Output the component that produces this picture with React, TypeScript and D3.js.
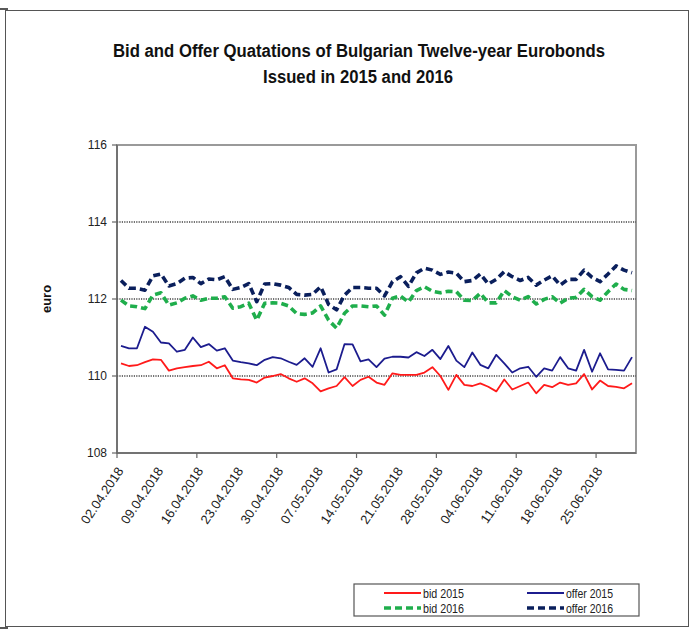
import React from "react";
import * as d3 from "d3";

const dates: string[] = [
  "02.04.2018","03.04.2018","04.04.2018","05.04.2018","06.04.2018",
  "09.04.2018","10.04.2018","11.04.2018","12.04.2018","13.04.2018",
  "16.04.2018","17.04.2018","18.04.2018","19.04.2018","20.04.2018",
  "23.04.2018","24.04.2018","25.04.2018","26.04.2018","27.04.2018",
  "30.04.2018","01.05.2018","02.05.2018","03.05.2018","04.05.2018",
  "07.05.2018","08.05.2018","09.05.2018","10.05.2018","11.05.2018",
  "14.05.2018","15.05.2018","16.05.2018","17.05.2018","18.05.2018",
  "21.05.2018","22.05.2018","23.05.2018","24.05.2018","25.05.2018",
  "28.05.2018","29.05.2018","30.05.2018","31.05.2018","01.06.2018",
  "04.06.2018","05.06.2018","06.06.2018","07.06.2018","08.06.2018",
  "11.06.2018","12.06.2018","13.06.2018","14.06.2018","15.06.2018",
  "18.06.2018","19.06.2018","20.06.2018","21.06.2018","22.06.2018",
  "25.06.2018","26.06.2018","27.06.2018","28.06.2018","29.06.2018",
];

const xLabels: string[] = [
  "02.04.2018","09.04.2018","16.04.2018","23.04.2018","30.04.2018",
  "07.05.2018","14.05.2018","21.05.2018","28.05.2018","04.06.2018",
  "11.06.2018","18.06.2018","25.06.2018",
];
const xTickDates: string[] = [
  "02.04.2018","16.04.2018","30.04.2018","14.05.2018","28.05.2018","11.06.2018","25.06.2018",
];
const yTicks: number[] = [108, 110, 112, 114, 116];
const gridValues: number[] = [110, 112, 114];

const bid2015: number[] = [
  110.33,110.26,110.28,110.36,110.43,110.42,110.14,110.2,110.23,110.26,
  110.28,110.37,110.2,110.28,109.94,109.91,109.9,109.83,109.96,110.0,
  110.05,109.94,109.85,109.94,109.81,109.6,109.68,109.74,109.97,109.74,
  109.9,109.98,109.83,109.77,110.07,110.03,110.03,110.03,110.09,110.23,
  110.0,109.64,110.03,109.77,109.74,109.81,109.72,109.6,109.91,109.65,
  109.74,109.83,109.55,109.77,109.71,109.83,109.77,109.81,110.05,109.65,
  109.88,109.74,109.72,109.68,109.81,
];
const offer2015: number[] = [
  110.78,110.72,110.72,111.28,111.15,110.87,110.85,110.63,110.68,111.0,
  110.75,110.83,110.66,110.72,110.4,110.36,110.33,110.28,110.42,110.49,
  110.46,110.37,110.29,110.46,110.24,110.72,110.09,110.17,110.83,110.82,
  110.38,110.43,110.23,110.45,110.5,110.5,110.48,110.62,110.52,110.68,
  110.44,110.78,110.4,110.23,110.61,110.29,110.2,110.55,110.33,110.09,
  110.2,110.24,109.98,110.2,110.14,110.49,110.2,110.14,110.68,110.11,
  110.59,110.17,110.16,110.14,110.49,
];
const bid2016: number[] = [
  111.97,111.82,111.8,111.75,112.1,112.16,111.84,111.9,112.02,112.08,
  111.97,112.02,112.02,112.06,111.76,111.8,111.89,111.45,111.89,111.9,
  111.89,111.82,111.62,111.6,111.64,111.82,111.45,111.24,111.63,111.82,
  111.82,111.8,111.82,111.58,112.02,112.08,111.92,112.22,112.32,112.2,
  112.16,112.2,112.19,111.97,111.96,112.15,111.9,111.9,112.22,112.06,
  111.97,112.06,111.87,111.99,112.06,111.89,112.02,112.04,112.25,112.06,
  111.97,112.19,112.39,112.25,112.22,
];
const offer2016: number[] = [
  112.48,112.28,112.28,112.23,112.6,112.65,112.34,112.4,112.54,112.56,
  112.4,112.52,112.5,112.58,112.25,112.3,112.4,111.93,112.39,112.4,
  112.36,112.3,112.12,112.1,112.12,112.32,111.86,111.72,112.1,112.3,
  112.3,112.28,112.28,112.08,112.45,112.58,112.33,112.68,112.8,112.75,
  112.64,112.7,112.67,112.45,112.48,112.65,112.39,112.51,112.71,112.58,
  112.48,112.56,112.36,112.49,112.6,112.36,112.51,112.51,112.75,112.56,
  112.45,112.65,112.86,112.75,112.68,
];

const seriesNames = ["bid 2015", "offer 2015", "bid 2016", "offer 2016"];

const FONT = "'Liberation Sans', Arial, sans-serif";

export default function App() {
  const W = 694, H = 635;
  const left = 117, right = 636, top = 145, bottom = 453;

  const x = d3.scaleBand<string>().domain(dates).range([left, right]).padding(0);
  const y = d3.scaleLinear().domain([108, 116]).range([bottom, top]);
  const cx = (d: string) => (x(d) as number) + x.bandwidth() / 2;

  const mk = (vals: number[]) =>
    d3.line<number>().x((_, i) => cx(dates[i])).y((v) => y(v))(vals) as string;

  const series = [
    { name: seriesNames[0], vals: bid2015, color: "#ff1a1a", width: 1.8, dash: undefined as string | undefined },
    { name: seriesNames[1], vals: offer2015, color: "#1c1c8e", width: 1.8, dash: undefined as string | undefined },
    { name: seriesNames[2], vals: bid2016, color: "#1fae4c", width: 3.6, dash: "7,4" },
    { name: seriesNames[3], vals: offer2016, color: "#0a1f5c", width: 3.6, dash: "7,4" },
  ];

  const legendItems = [
    { s: series[0], lx: 384, ty: 593, tl: 41 },
    { s: series[1], lx: 527, ty: 593, tl: 47 },
    { s: series[2], lx: 384, ty: 608, tl: 41 },
    { s: series[3], lx: 527, ty: 608, tl: 47 },
  ];

  return (
    <svg width={W} height={H} style={{ position: "absolute", left: 0, top: 0, background: "#fff" }} fontFamily={FONT}>
      <rect x={0} y={0} width={W} height={H} fill="#fff" />
      {/* outer frame */}
      <line x1={0} y1={9} x2={8} y2={9} stroke="#222" strokeWidth={1.5} />
      <rect x={5.5} y={10.5} width={683} height={616} fill="none" stroke="#555" strokeWidth={1} />
      <line x1={0} y1={628} x2={8} y2={628} stroke="#222" strokeWidth={1.5} />

      {/* title */}
      <text x={359} y={57} textAnchor="middle" fontSize={18} fontWeight="bold" fill="#111"
        textLength={492} lengthAdjust="spacingAndGlyphs">
        Bid and Offer Quatations of Bulgarian Twelve-year Eurobonds
      </text>
      <text x={358} y={83} textAnchor="middle" fontSize={18} fontWeight="bold" fill="#111"
        textLength={190} lengthAdjust="spacingAndGlyphs">
        Issued in 2015 and 2016
      </text>

      {/* y axis title */}
      <text transform={`translate(51,${y(112)}) rotate(-90)`} textAnchor="middle" fontSize={13} fontWeight="bold" fill="#111">
        euro
      </text>

      {/* plot frame */}
      <rect x={left} y={top} width={right - left} height={bottom - top} fill="none" stroke="#9a9a9a" strokeWidth={2} />

      {/* gridlines */}
      {gridValues.map((g) => (
        <line key={g} x1={left} x2={right} y1={y(g)} y2={y(g)} stroke="#444" strokeWidth={1.5} strokeDasharray="1.2,1.2" />
      ))}

      {/* axes */}
      <line x1={left} x2={left} y1={top} y2={bottom} stroke="#666" strokeWidth={1.5} />
      <line x1={left} x2={right} y1={bottom} y2={bottom} stroke="#666" strokeWidth={1.5} />
      {yTicks.map((t) => (
        <g key={t}>
          <line x1={left - 5} x2={left} y1={y(t)} y2={y(t)} stroke="#666" strokeWidth={1.2} />
          <text x={107} y={y(t) + 4} textAnchor="end" fontSize={12} fill="#222">{t}</text>
        </g>
      ))}
      {xTickDates.map((d) => (
        <line key={d} x1={x(d) as number} x2={x(d) as number} y1={bottom} y2={bottom + 5} stroke="#666" strokeWidth={1.2} />
      ))}
      {xLabels.map((d) => (
        <text key={d} transform={`translate(${cx(d) + 3},${bottom + 18}) rotate(-56)`} textAnchor="end"
          fontSize={13} fill="#222">
          {d}
        </text>
      ))}

      {/* series */}
      {series.map((s) => (
        <path key={s.name} d={mk(s.vals)} fill="none" stroke={s.color} strokeWidth={s.width}
          strokeDasharray={s.dash} strokeLinejoin="round" />
      ))}

      {/* legend */}
      <rect x={354} y={584} width={285} height={32} fill="#fff" stroke="#555" strokeWidth={1.2} />
      {legendItems.map(({ s, lx, ty, tl }) => (
        <g key={s.name}>
          <line x1={lx} x2={lx + 37} y1={ty} y2={ty} stroke={s.color} strokeWidth={s.width}
            strokeDasharray={s.dash} />
          <text x={lx + 39} y={ty + 4.5} fontSize={13} fill="#222" textLength={tl} lengthAdjust="spacingAndGlyphs">{s.name}</text>
        </g>
      ))}
    </svg>
  );
}
